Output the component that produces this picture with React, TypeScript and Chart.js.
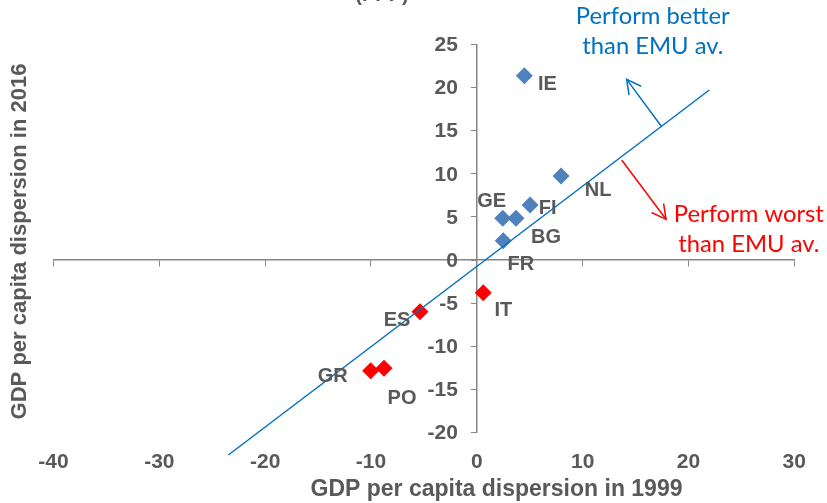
import React, { useEffect, useRef } from "react";
import { Chart, registerables } from "chart.js";

Chart.register(...registerables);

// ---- data ----
const countries = ["IE", "NL", "FI", "GE", "BG", "FR", "IT", "ES", "GR", "PO"];
const dispersion1999 = [4.49, 7.96, 5.03, 2.45, 3.7, 2.5, 0.61, -5.37, -10.03, -8.77];
const dispersion2016 = [21.38, 9.74, 6.38, 4.84, 4.84, 2.24, -3.79, -6.0, -12.84, -12.56];
const performance = ["better", "better", "better", "better", "better", "better", "worse", "worse", "worse", "worse"];

// trend line end points (data units)
const trendX = [-23.48, 21.97];
const trendY = [-22.62, 19.72];

// axis ranges / ticks
const xMin = -40;
const xMax = 30;
const xStep = 10;
const yMin = -20;
const yMax = 25;
const yStep = 5;

// annotation anchor points (data units)
const betterArrow = { from: [17.47, 15.46], to: [14.16, 20.96] };
const worseArrow = { from: [13.69, 11.6], to: [17.88, 4.72] };
const betterText = ["Perform better", "than EMU av."];
const worseText = ["Perform worst", "than EMU av."];
const betterTextAnchor = [16.63, 28.22, 24.74];
const worseTextAnchor = [25.7, 5.34, 1.82];

const xTitle = "GDP per capita dispersion in 1999";
const yTitle = "GDP per capita dispersion in 2016";
const topTitle = "(PPP)";

// ---- styles ----
const labelOffsets: [number, number][] = [
  [23, 9], [37, 14], [17.5, 3], [-11, -17], [30, 19], [17.5, 24], [20, 18], [-23, 9], [-38, 6], [18, 30],
];
const BLUE_POINT = "#4F81BD";
const RED_POINT = "#FF0000";
const LINE_BLUE = "#0070C0";
const TEXT_GREY = "#595959";
const AXIS_GREY = "#868686";
const BOLD_FONT = '"Liberation Sans", Arial, sans-serif';
const NOTE_FONT = 'Lato, "Open Sans", sans-serif';

function drawArrow(ctx: CanvasRenderingContext2D, x1: number, y1: number, x2: number, y2: number, color: string) {
  ctx.save();
  ctx.strokeStyle = color;
  ctx.lineWidth = 1.5;
  ctx.beginPath();
  ctx.moveTo(x1, y1);
  ctx.lineTo(x2, y2);
  ctx.stroke();
  const ang = Math.atan2(y1 - y2, x1 - x2);
  const len = 16;
  const spread = (28 * Math.PI) / 180;
  ctx.beginPath();
  ctx.moveTo(x2 + len * Math.cos(ang - spread), y2 + len * Math.sin(ang - spread));
  ctx.lineTo(x2, y2);
  ctx.lineTo(x2 + len * Math.cos(ang + spread), y2 + len * Math.sin(ang + spread));
  ctx.stroke();
  ctx.restore();
}

const decorPlugin = {
  id: "decor",
  afterDatasetsDraw(chart: any) {
    const { ctx } = chart;
    const xs = chart.scales.x;
    const ys = chart.scales.y;
    ctx.save();
    // y tick labels, left of the crossing axis
    ctx.font = `bold 21px ${BOLD_FONT}`;
    ctx.fillStyle = TEXT_GREY;
    ctx.textAlign = "right";
    ctx.textBaseline = "middle";
    const axisX = xs.getPixelForValue(0);
    ys.ticks.forEach((t: any) => {
      ctx.fillText(String(t.value), axisX - 19, ys.getPixelForValue(t.value) + 1);
    });
    // point labels
    ctx.font = `bold 20px ${BOLD_FONT}`;
    ctx.textAlign = "center";
    countries.forEach((c, i) => {
      const px = xs.getPixelForValue(dispersion1999[i]) + labelOffsets[i][0];
      const py = ys.getPixelForValue(dispersion2016[i]) + labelOffsets[i][1];
      ctx.fillText(c, px, py);
    });
    // arrows
    drawArrow(
      ctx,
      xs.getPixelForValue(betterArrow.from[0]), ys.getPixelForValue(betterArrow.from[1]),
      xs.getPixelForValue(betterArrow.to[0]), ys.getPixelForValue(betterArrow.to[1]),
      LINE_BLUE
    );
    drawArrow(
      ctx,
      xs.getPixelForValue(worseArrow.from[0]), ys.getPixelForValue(worseArrow.from[1]),
      xs.getPixelForValue(worseArrow.to[0]), ys.getPixelForValue(worseArrow.to[1]),
      RED_POINT
    );
    // notes
    ctx.font = `23.8px ${NOTE_FONT}`;
    ctx.fillStyle = LINE_BLUE;
    ctx.fillText(betterText[0], xs.getPixelForValue(betterTextAnchor[0]), ys.getPixelForValue(betterTextAnchor[1]));
    ctx.fillText(betterText[1], xs.getPixelForValue(betterTextAnchor[0]), ys.getPixelForValue(betterTextAnchor[2]));
    ctx.fillStyle = RED_POINT;
    ctx.fillText(worseText[0], xs.getPixelForValue(worseTextAnchor[0]), ys.getPixelForValue(worseTextAnchor[1]));
    ctx.fillText(worseText[1], xs.getPixelForValue(worseTextAnchor[0]), ys.getPixelForValue(worseTextAnchor[2]));
    ctx.restore();
  },
  afterDraw(chart: any) {
    const { ctx } = chart;
    ctx.save();
    ctx.fillStyle = TEXT_GREY;
    ctx.font = `bold 23px ${BOLD_FONT}`;
    ctx.textAlign = "center";
    ctx.textBaseline = "middle";
    ctx.fillText(xTitle, 496.5, 490);
    ctx.font = `bold 22px ${BOLD_FONT}`;
    ctx.save();
    ctx.translate(20, 241.5);
    ctx.rotate(-Math.PI / 2);
    ctx.fillText(yTitle, 0, 0);
    ctx.restore();
    ctx.textBaseline = "alphabetic";
    ctx.font = `bold 20px ${BOLD_FONT}`;
    ctx.fillText(topTitle, 382, 0.5);
    ctx.restore();
  },
};

export default function App() {
  const ref = useRef<HTMLCanvasElement | null>(null);
  useEffect(() => {
    if (!ref.current) return;
    const pts = (grp: string) =>
      countries
        .map((_, i) => ({ x: dispersion1999[i], y: dispersion2016[i], g: performance[i] }))
        .filter((p) => p.g === grp)
        .map((p) => ({ x: p.x, y: p.y }));
    const chart = new Chart(ref.current, {
      type: "scatter",
      data: {
        datasets: [
          {
            type: "line",
            label: "trend",
            data: trendX.map((x, i) => ({ x, y: trendY[i] })),
            borderColor: LINE_BLUE,
            borderWidth: 1.5,
            pointRadius: 0,
            fill: false,
            clip: false as any,
          } as any,
          {
            label: "better",
            data: pts("better"),
            pointStyle: "rectRot",
            pointRadius: 8.5,
            backgroundColor: BLUE_POINT,
            borderWidth: 0,
          },
          {
            label: "worse",
            data: pts("worse"),
            pointStyle: "rectRot",
            pointRadius: 8.5,
            backgroundColor: RED_POINT,
            borderWidth: 0,
          },
        ],
      },
      options: {
        animation: false,
        responsive: true,
        maintainAspectRatio: false,
        layout: { padding: { left: 53.5, right: 32.7, top: 44.5, bottom: 0 } },
        plugins: { legend: { display: false }, tooltip: { enabled: false }, title: { display: false } },
        scales: {
          x: {
            type: "linear",
            position: "bottom",
            min: xMin,
            max: xMax,
            ticks: { stepSize: xStep, color: TEXT_GREY, font: { family: BOLD_FONT, size: 21, weight: "bold" }, padding: 17, maxRotation: 0 },
            grid: { display: false, drawTicks: false },
            border: { display: false },
            afterFit: (s: any) => {
              s.height = 70.6;
            },
          },
          x2: {
            type: "linear",
            axis: "x",
            position: { y: 0 } as any,
            min: xMin,
            max: xMax,
            ticks: { stepSize: xStep, display: false },
            grid: { drawOnChartArea: false, drawTicks: true, tickLength: 6, color: AXIS_GREY },
            border: { display: true, color: AXIS_GREY, width: 1.5 },
          },
          y: {
            type: "linear",
            position: { x: 0 } as any,
            min: yMin,
            max: yMax,
            ticks: { stepSize: yStep, display: false },
            grid: { drawOnChartArea: false, drawTicks: true, tickLength: 5, color: AXIS_GREY },
            border: { display: true, color: AXIS_GREY, width: 1.5 },
          },
        },
      } as any,
      plugins: [decorPlugin],
    });
    return () => chart.destroy();
  }, []);
  return (
    <div style={{ position: "fixed", left: 0, top: 0, width: 827, height: 503, background: "#fff" }}>
      <canvas ref={ref} />
    </div>
  );
}
